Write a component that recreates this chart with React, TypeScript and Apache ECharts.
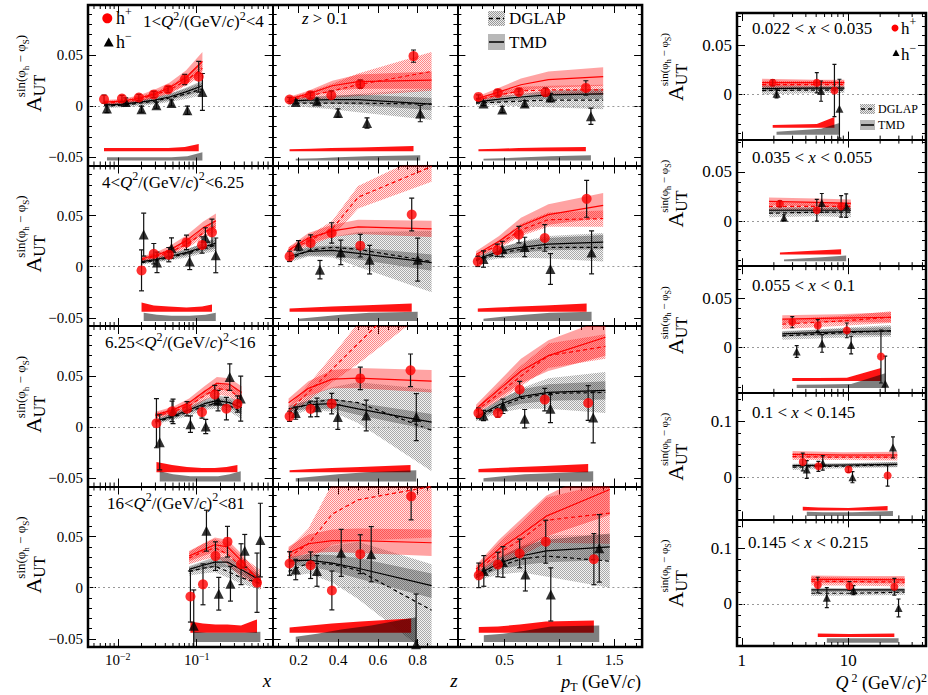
import React, { useEffect, useRef } from "react";
import * as echarts from "echarts";

const FONT = "'Liberation Serif', 'Times New Roman', Times, serif";

// ---------------- axis ranges and tick labels ----------------
const X_RANGE = [0.0042, 0.916];
const Z_RANGE = [0.07, 1.0];
const PT_RANGE = [0.07, 1.755];
const Q2_RANGE = [0.9, 54];
const YL_RANGE = [-0.058, 0.099];
const YRA_RANGE = [-0.046, 0.083];
const YRB_RANGE = [-0.076, 0.152];

const X_TICKS = [0.01, 0.1];
const Z_TICKS = [0.2, 0.4, 0.6, 0.8];
const PT_TICKS = [0.5, 1, 1.5];
const Q2_TICKS = [1, 10];
const YL_TICKS = [-0.05, 0, 0.05];
const YRA_TICKS = [0, 0.05];
const YRB_TICKS = [0, 0.1];
const X_MINOR = [0.005, 0.006, 0.007, 0.008, 0.009, 0.02, 0.03, 0.04, 0.05, 0.06, 0.07, 0.08, 0.09, 0.2, 0.3, 0.4, 0.5, 0.6, 0.7, 0.8, 0.9];
const Q2_MINOR = [2, 3, 4, 5, 6, 7, 8, 9, 20, 30, 40, 50];

// ---------------- labels ----------------
const Q2_BINS = [["1", "4"], ["4", "6.25"], ["6.25", "16"], ["16", "81"]];
const X_BINS = [["0.022", "0.035"], ["0.035", "0.055"], ["0.055", "0.1"], ["0.1", "0.145"], ["0.145", "0.215"]];

// systematic band baselines [h+, h-]
const SYS_BASE_L = [-0.044, -0.053];
const SYS_BASE_RA = [-0.034, -0.041];
const SYS_BASE_RB = [-0.06, -0.07];

// ---------------- data: left block, 1<Q2<4 ----------------
const q1_x = {
  hpX: [0.0067, 0.0113, 0.0185, 0.0286, 0.0434, 0.0705, 0.106],
  hpY: [0.0069, 0.0075, 0.0085, 0.0115, 0.0164, 0.0262, 0.0288],
  hpE: [0.004, 0.003, 0.003, 0.003, 0.003, 0.005, 0.015],
  hmX: [0.0073, 0.0126, 0.02, 0.0309, 0.0479, 0.0762, 0.118],
  hmY: [-0.0023, 0.0042, -0.0029, 0.001, 0.0032, -0.0039, 0.014],
  hmE: [0.004, 0.004, 0.003, 0.003, 0.003, 0.004, 0.018],
  mX: [0.0067, 0.0115, 0.019, 0.029, 0.045, 0.073, 0.118],
  tmdP: [0.004, 0.005, 0.008, 0.012, 0.018, 0.028, 0.044], tmdPw: [0.002, 0.002, 0.003, 0.004, 0.005, 0.007, 0.009],
  dglP: [0.003, 0.004, 0.007, 0.011, 0.016, 0.025, 0.037], dglPw: [0.002, 0.002, 0.003, 0.003, 0.004, 0.005, 0.007],
  tmdM: [0.001, 0.002, 0.004, 0.006, 0.009, 0.014, 0.02], tmdMw: [0.002, 0.002, 0.002, 0.003, 0.003, 0.004, 0.005],
  dglM: [0.0, 0.001, 0.003, 0.005, 0.008, 0.012, 0.017], dglMw: [0.002, 0.002, 0.003, 0.003, 0.004, 0.005, 0.006],
  sysP: [0.003, 0.003, 0.003, 0.003, 0.003, 0.004, 0.007],
  sysM: [0.003, 0.003, 0.003, 0.003, 0.003, 0.004, 0.008],
};
const q1_z = {
  hpX: [0.155, 0.26, 0.365, 0.511, 0.779], hpY: [0.0066, 0.0108, 0.0108, 0.0216, 0.049], hpE: [0.002, 0.003, 0.004, 0.004, 0.006],
  hmX: [0.186, 0.293, 0.399, 0.545, 0.813], hmY: [0.0042, 0.0049, -0.0066, -0.0164, -0.0072], hmE: [0.002, 0.003, 0.004, 0.005, 0.008],
  mX: [0.15, 0.25, 0.37, 0.5, 0.87],
  tmdP: [0.007, 0.012, 0.02, 0.024, 0.0255], tmdPw: [0.002, 0.003, 0.005, 0.007, 0.0085],
  dglP: [0.006, 0.01, 0.015, 0.021, 0.034], dglPw: [0.002, 0.004, 0.007, 0.011, 0.019],
  tmdM: [0.005, 0.006, 0.0065, 0.0065, 0.002], tmdMw: [0.002, 0.003, 0.004, 0.005, 0.006],
  dglM: [0.003, 0.003, 0.003, 0.003, 0.002], dglMw: [0.002, 0.004, 0.006, 0.009, 0.0155],
  sysP: [0.002, 0.0025, 0.003, 0.0035, 0.005], sysM: [0.0015, 0.002, 0.003, 0.004, 0.005],
};
const q1_pt = {
  hpX: [0.262, 0.439, 0.631, 0.873, 1.242], hpY: [0.0091, 0.013, 0.014, 0.0137, 0.0179], hpE: [0.002, 0.003, 0.003, 0.004, 0.007],
  hmX: [0.308, 0.479, 0.684, 0.919, 1.288], hmY: [0.0026, -0.0032, 0.0026, 0.0085, -0.0098], hmE: [0.002, 0.003, 0.003, 0.004, 0.008],
  mX: [0.24, 0.45, 0.65, 0.9, 1.4],
  tmdP: [0.007, 0.014, 0.021, 0.026, 0.029], tmdPw: [0.002, 0.004, 0.006, 0.008, 0.009],
  dglP: [0.006, 0.011, 0.015, 0.016, 0.016], dglPw: [0.002, 0.003, 0.004, 0.004, 0.005],
  tmdM: [0.004, 0.007, 0.009, 0.011, 0.012], tmdMw: [0.002, 0.003, 0.003, 0.004, 0.005],
  dglM: [0.003, 0.004, 0.005, 0.006, 0.006], dglMw: [0.002, 0.003, 0.005, 0.007, 0.009],
  sysP: [0.002, 0.0025, 0.003, 0.0035, 0.004], sysM: [0.0015, 0.002, 0.003, 0.004, 0.005],
};
// ---------------- 4<Q2<6.25 ----------------
const q2_x = {
  hpX: [0.02, 0.0286, 0.0443, 0.0741, 0.1167, 0.156], hpY: [-0.0036, 0.0127, 0.0118, 0.0238, 0.0213, 0.0336], hpE: [0.02, 0.01, 0.007, 0.007, 0.008, 0.013],
  hmX: [0.0213, 0.0314, 0.0479, 0.0815, 0.1288, 0.1742], hmY: [0.0314, 0.0042, 0.0183, 0.0052, 0.0281, 0.0111], hmE: [0.021, 0.01, 0.01, 0.008, 0.01, 0.017],
  mX: [0.02, 0.03, 0.045, 0.075, 0.12, 0.175],
  tmdP: [0.008, 0.011, 0.016, 0.026, 0.038, 0.045], tmdPw: [0.002, 0.003, 0.004, 0.005, 0.006, 0.007],
  dglP: [0.007, 0.01, 0.014, 0.022, 0.033, 0.04], dglPw: [0.002, 0.003, 0.003, 0.004, 0.005, 0.006],
  tmdM: [0.005, 0.007, 0.01, 0.014, 0.019, 0.023], tmdMw: [0.002, 0.002, 0.003, 0.003, 0.004, 0.005],
  dglM: [0.004, 0.006, 0.009, 0.013, 0.018, 0.021], dglMw: [0.002, 0.002, 0.003, 0.004, 0.005, 0.006],
  sysP: [0.009, 0.006, 0.005, 0.004, 0.005, 0.007], sysM: [0.008, 0.006, 0.005, 0.005, 0.006, 0.008],
};
const q2_z = {
  hpX: [0.155, 0.261, 0.367, 0.511, 0.77], hpY: [0.0101, 0.0232, 0.033, 0.0206, 0.051], hpE: [0.005, 0.008, 0.01, 0.011, 0.016],
  hmX: [0.2, 0.308, 0.413, 0.558, 0.8], hmY: [0.0206, -0.0029, 0.014, 0.0069, 0.0069], hmE: [0.005, 0.009, 0.012, 0.014, 0.021],
  mX: [0.15, 0.25, 0.37, 0.5, 0.87],
  tmdP: [0.016, 0.028, 0.035, 0.039, 0.037], tmdPw: [0.003, 0.005, 0.006, 0.007, 0.008],
  dglP: [0.016, 0.025, 0.037, 0.068, 0.098], dglPw: [0.003, 0.005, 0.008, 0.011, 0.015],
  tmdM: [0.01, 0.015, 0.016, 0.013, 0.004], tmdMw: [0.003, 0.004, 0.005, 0.006, 0.008],
  dglM: [0.007, 0.016, 0.019, 0.017, 0.005], dglMw: [0.003, 0.006, 0.01, 0.017, 0.03],
  sysP: [0.003, 0.004, 0.005, 0.006, 0.008], sysM: [0.002, 0.004, 0.006, 0.008, 0.009],
};
const q2_pt = {
  hpX: [0.256, 0.434, 0.631, 0.867, 1.249], hpY: [0.0052, 0.016, 0.0314, 0.0281, 0.0664], hpE: [0.005, 0.006, 0.008, 0.013, 0.018],
  hmX: [0.308, 0.479, 0.684, 0.919, 1.294], hmY: [0.0075, 0.0173, 0.0193, -0.0023, 0.014], hmE: [0.008, 0.0075, 0.0095, 0.015, 0.021],
  mX: [0.24, 0.45, 0.65, 0.9, 1.4],
  tmdP: [0.012, 0.025, 0.04, 0.051, 0.06], tmdPw: [0.003, 0.005, 0.008, 0.01, 0.012],
  dglP: [0.01, 0.022, 0.036, 0.046, 0.047], dglPw: [0.002, 0.004, 0.006, 0.007, 0.008],
  tmdM: [0.007, 0.015, 0.019, 0.022, 0.024], tmdMw: [0.002, 0.004, 0.005, 0.006, 0.007],
  dglM: [0.006, 0.013, 0.017, 0.019, 0.019], dglMw: [0.002, 0.005, 0.008, 0.011, 0.014],
  sysP: [0.003, 0.004, 0.005, 0.006, 0.008], sysM: [0.002, 0.004, 0.006, 0.008, 0.009],
};
// ---------------- 6.25<Q2<16 ----------------
const q3_x = {
  hpX: [0.0309, 0.0487, 0.0753, 0.1166, 0.169, 0.2376, 0.3275], hpY: [0.0039, 0.0155, 0.0181, 0.0148, 0.032, 0.0181, 0.0227], hpE: [0.024, 0.01, 0.007, 0.006, 0.009, 0.011, 0.008],
  hmX: [0.034, 0.0501, 0.0832, 0.13, 0.186, 0.262, 0.3606], hmY: [-0.0148, 0.0155, 0.003, 0.0007, 0.026, 0.049, 0.028], hmE: [0.027, 0.012, 0.008, 0.007, 0.01, 0.013, 0.022],
  mX: [0.03, 0.05, 0.08, 0.125, 0.18, 0.26, 0.37],
  tmdP: [0.012, 0.017, 0.024, 0.035, 0.043, 0.042, 0.034], tmdPw: [0.003, 0.003, 0.004, 0.005, 0.006, 0.006, 0.006],
  dglP: [0.011, 0.015, 0.021, 0.031, 0.038, 0.036, 0.028], dglPw: [0.003, 0.003, 0.004, 0.005, 0.006, 0.006, 0.007],
  tmdM: [0.006, 0.011, 0.017, 0.023, 0.026, 0.024, 0.019], tmdMw: [0.002, 0.003, 0.003, 0.004, 0.005, 0.005, 0.006],
  dglM: [0.005, 0.01, 0.015, 0.021, 0.023, 0.021, 0.015], dglMw: [0.002, 0.003, 0.004, 0.004, 0.005, 0.006, 0.007],
  sysP: [0.01, 0.007, 0.005, 0.004, 0.004, 0.005, 0.007], sysM: [0.01, 0.007, 0.005, 0.005, 0.005, 0.007, 0.01],
};
const q3_z = {
  hpX: [0.155, 0.261, 0.367, 0.511, 0.764], hpY: [0.0106, 0.0178, 0.023, 0.0477, 0.0556], hpE: [0.005, 0.0077, 0.01, 0.011, 0.016],
  hmX: [0.186, 0.293, 0.398, 0.541, 0.793], hmY: [0.0138, 0.0194, 0.0099, 0.0115, 0.0099], hmE: [0.006, 0.009, 0.012, 0.015, 0.023],
  mX: [0.15, 0.25, 0.37, 0.5, 0.87],
  tmdP: [0.024, 0.038, 0.047, 0.048, 0.045], tmdPw: [0.004, 0.007, 0.009, 0.01, 0.011],
  dglP: [0.016, 0.034, 0.057, 0.082, 0.152], dglPw: [0.004, 0.008, 0.013, 0.02, 0.035],
  tmdM: [0.018, 0.022, 0.023, 0.018, 0.005], tmdMw: [0.003, 0.004, 0.005, 0.006, 0.008],
  dglM: [0.013, 0.024, 0.027, 0.024, -0.003], dglMw: [0.003, 0.007, 0.012, 0.02, 0.04],
  sysP: [0.002, 0.003, 0.004, 0.005, 0.007], sysM: [0.003, 0.005, 0.007, 0.009, 0.011],
};
const q3_pt = {
  hpX: [0.262, 0.439, 0.638, 0.867, 1.263], hpY: [0.0138, 0.0138, 0.0369, 0.027, 0.0237], hpE: [0.005, 0.004, 0.008, 0.011, 0.017],
  hmX: [0.308, 0.485, 0.684, 0.919, 1.309], hmY: [0.0115, 0.0204, 0.0083, 0.0181, 0.0096], hmE: [0.005, 0.007, 0.009, 0.0137, 0.025],
  mX: [0.24, 0.45, 0.65, 0.9, 1.42],
  tmdP: [0.018, 0.037, 0.055, 0.07, 0.088], tmdPw: [0.004, 0.008, 0.012, 0.015, 0.018],
  dglP: [0.016, 0.033, 0.05, 0.07, 0.079], dglPw: [0.003, 0.007, 0.01, 0.012, 0.012],
  tmdM: [0.01, 0.022, 0.03, 0.034, 0.036], tmdMw: [0.003, 0.005, 0.007, 0.008, 0.009],
  dglM: [0.009, 0.02, 0.028, 0.033, 0.034], dglMw: [0.003, 0.006, 0.01, 0.015, 0.02],
  sysP: [0.003, 0.004, 0.005, 0.006, 0.008], sysM: [0.003, 0.005, 0.007, 0.008, 0.01],
};
// ---------------- 16<Q2<81 ----------------
const q4_x = {
  hpX: [0.0832, 0.12, 0.1726, 0.245, 0.364, 0.58], hpY: [-0.0086, 0.0033, 0.0309, 0.045, 0.023, 0.0049], hpE: [0.025, 0.02, 0.014, 0.015, 0.02, 0.029],
  hmX: [0.0916, 0.1327, 0.19, 0.2672, 0.4055, 0.6397], hmY: [-0.0372, 0.0558, -0.0059, 0.0039, 0.0361, 0.0466], hmE: [0.035, 0.02, 0.016, 0.017, 0.016, 0.036],
  mX: [0.08, 0.12, 0.17, 0.245, 0.36, 0.65],
  tmdP: [0.031, 0.037, 0.042, 0.04, 0.027, 0.005], tmdPw: [0.005, 0.006, 0.007, 0.007, 0.007, 0.006],
  dglP: [0.029, 0.035, 0.039, 0.033, 0.021, 0.008], dglPw: [0.006, 0.008, 0.009, 0.01, 0.01, 0.009],
  tmdM: [0.018, 0.022, 0.025, 0.025, 0.018, 0.007], tmdMw: [0.003, 0.004, 0.005, 0.005, 0.005, 0.005],
  dglM: [0.016, 0.019, 0.021, 0.016, 0.01, 0.004], dglMw: [0.004, 0.005, 0.006, 0.006, 0.006, 0.006],
  sysP: [0.011, 0.009, 0.008, 0.008, 0.007, 0.013], sysM: [0.01, 0.009, 0.009, 0.009, 0.009, 0.01],
};
const q4_z = {
  hpX: [0.155, 0.261, 0.368, 0.511, 0.767], hpY: [0.0237, 0.022, -0.0027, 0.0328, 0.0894], hpE: [0.0115, 0.013, 0.019, 0.019, 0.023],
  hmX: [0.186, 0.293, 0.415, 0.566, 0.792], hmY: [0.0178, 0.0164, 0.0341, 0.0328, -0.0552], hmE: [0.01, 0.015, 0.023, 0.027, 0.049],
  mX: [0.15, 0.25, 0.37, 0.5, 0.87],
  tmdP: [0.034, 0.043, 0.046, 0.046, 0.044], tmdPw: [0.006, 0.009, 0.011, 0.012, 0.013],
  dglP: [0.03, 0.043, 0.072, 0.086, 0.099], dglPw: [0.008, 0.015, 0.03, 0.04, 0.05],
  tmdM: [0.026, 0.027, 0.024, 0.019, 0.002], tmdMw: [0.004, 0.006, 0.008, 0.01, 0.012],
  dglM: [0.016, 0.024, 0.023, 0.017, -0.022], dglMw: [0.005, 0.01, 0.018, 0.028, 0.045],
  sysP: [0.005, 0.007, 0.009, 0.011, 0.014], sysM: [0.005, 0.008, 0.012, 0.016, 0.024],
};
const q4_pt = {
  hpX: [0.265, 0.439, 0.638, 0.876, 1.315], hpY: [0.0121, 0.0227, 0.0335, 0.045, 0.0279], hpE: [0.012, 0.012, 0.014, 0.021, 0.025],
  hmX: [0.311, 0.485, 0.69, 0.922, 1.364], hmY: [0.0164, 0.0252, 0.0128, -0.0066, 0.0385], hmE: [0.015, 0.015, 0.016, 0.026, 0.033],
  mX: [0.24, 0.45, 0.65, 0.88, 1.46],
  tmdP: [0.018, 0.038, 0.052, 0.07, 0.096], tmdPw: [0.004, 0.009, 0.015, 0.02, 0.025],
  dglP: [0.016, 0.034, 0.047, 0.066, 0.073], dglPw: [0.004, 0.01, 0.016, 0.022, 0.03],
  tmdM: [0.012, 0.024, 0.031, 0.036, 0.04], tmdMw: [0.003, 0.006, 0.009, 0.011, 0.013],
  dglM: [0.01, 0.021, 0.028, 0.031, 0.026], dglMw: [0.003, 0.008, 0.013, 0.02, 0.026],
  sysP: [0.0056, 0.006, 0.008, 0.011, 0.012], sysM: [0.0066, 0.008, 0.011, 0.015, 0.016],
};
// ---------------- right block: Q2 dependence in x bins ----------------
const rx1 = {
  hpX: [1.95, 5.07, 7.43], hpY: [0.012, 0.012, 0.0041], hpE: [0.003, 0.0103, 0.0266],
  hmX: [2.12, 5.56, 8.28], hmY: [0.0006, 0.0034, -0.0145], hmE: [0.004, 0.0103, 0.03],
  mX: [1.55, 5, 9.2],
  tmdP: [0.012, 0.012, 0.012], tmdPw: [0.004, 0.003, 0.003],
  dglP: [0.01, 0.01, 0.01], dglPw: [0.004, 0.004, 0.004],
  tmdM: [0.006, 0.0065, 0.0065], tmdMw: [0.003, 0.002, 0.002],
  dglM: [0.004, 0.0045, 0.0045], dglMw: [0.004, 0.003, 0.003],
  sysP: [0.003, 0.004, 0.011], sysM: [0.003, 0.006, 0.012],
};
const rx2 = {
  hpX: [2.28, 5.07, 8.59], hpY: [0.0177, 0.011, 0.015], hpE: [0.003, 0.011, 0.011],
  hmX: [2.49, 5.65, 9.58], hmY: [0.0034, 0.0184, 0.0157], hmE: [0.003, 0.0097, 0.012],
  mX: [1.8, 5, 10.6],
  tmdP: [0.02, 0.019, 0.018], tmdPw: [0.004, 0.004, 0.004],
  dglP: [0.015, 0.015, 0.015], dglPw: [0.004, 0.004, 0.004],
  tmdM: [0.011, 0.011, 0.011], tmdMw: [0.003, 0.003, 0.003],
  dglM: [0.008, 0.009, 0.009], dglMw: [0.004, 0.004, 0.005],
  sysP: [0.002, 0.004, 0.0053], sysM: [0.0017, 0.004, 0.006],
};
const rx3 = {
  hpX: [2.98, 5.18, 9.72, 20.35], hpY: [0.026, 0.0226, 0.0176, -0.009], hpE: [0.0057, 0.006, 0.0075, 0.027],
  hmX: [3.28, 5.68, 10.67, 22.34], hmY: [-0.004, 0.0043, 0.0026, -0.0367], hmE: [0.006, 0.009, 0.009, 0.028],
  mX: [2.4, 8, 25.3],
  tmdP: [0.029, 0.03, 0.031], tmdPw: [0.004, 0.004, 0.005],
  dglP: [0.024, 0.027, 0.031], dglPw: [0.005, 0.005, 0.006],
  tmdM: [0.014, 0.016, 0.017], tmdMw: [0.003, 0.003, 0.004],
  dglM: [0.012, 0.015, 0.017], dglMw: [0.004, 0.005, 0.006],
  sysP: [0.003, 0.003, 0.0033, 0.0133], sysM: [0.0033, 0.0035, 0.004, 0.015],
};
const rx4 = {
  hpX: [3.74, 5.25, 10.07, 23.5], hpY: [0.0275, 0.0196, 0.0138, 0.003], hpE: [0.016, 0.009, 0.005, 0.019],
  hmX: [4.08, 5.77, 10.98, 26.4], hmY: [0.0138, 0.0257, 0.0, 0.0536], hmE: [0.016, 0.013, 0.01, 0.019],
  mX: [3, 9, 29],
  tmdP: [0.041, 0.04, 0.04], tmdPw: [0.006, 0.005, 0.006],
  dglP: [0.037, 0.036, 0.036], dglPw: [0.006, 0.005, 0.006],
  tmdM: [0.021, 0.022, 0.023], tmdMw: [0.003, 0.003, 0.004],
  dglM: [0.018, 0.02, 0.023], dglMw: [0.005, 0.004, 0.005],
  sysP: [0.007, 0.0055, 0.0047, 0.0083], sysM: [0.0078, 0.007, 0.007, 0.009],
};
const rx5 = {
  hpX: [5.18, 10.29, 27.2], hpY: [0.0338, 0.032, 0.0307], hpE: [0.014, 0.008, 0.015],
  hmX: [6.3, 11.22, 29.8], hmY: [0.011, 0.0246, -0.0074], hmE: [0.018, 0.008, 0.016],
  mX: [4.5, 11, 34],
  tmdP: [0.044, 0.044, 0.043], tmdPw: [0.007, 0.006, 0.007],
  dglP: [0.041, 0.04, 0.039], dglPw: [0.008, 0.007, 0.008],
  tmdM: [0.025, 0.025, 0.025], tmdMw: [0.004, 0.003, 0.004],
  dglM: [0.019, 0.019, 0.021], dglMw: [0.005, 0.004, 0.005],
  sysP: [0.0065, 0.0055, 0.0065], sysM: [0.008, 0.008, 0.008],
};

const LEFT_PANELS = [
  [q1_x, q1_z, q1_pt],
  [q2_x, q2_z, q2_pt],
  [q3_x, q3_z, q3_pt],
  [q4_x, q4_z, q4_pt],
];
const RIGHT_PANELS = [rx1, rx2, rx3, rx4, rx5];

// ---------------- styling / layout ----------------
const RED = "#ff0000";
const C_TMD_P = "rgba(255,0,0,0.36)";
const C_TMD_M = "rgba(0,0,0,0.27)";
const C_SYS_P = "rgba(255,0,0,0.92)";
const C_SYS_M = "rgba(0,0,0,0.5)";

const L_LAYOUT = { x0: 88, y0: 5, w: 184.7, h: 160.5 };
const R_LAYOUT = { x0: 737, y0: 13, w: 189, h: 126.6 };

function dotPattern(bg: string, dot: string, fallback: string): any {
  try {
    const c = document.createElement("canvas");
    c.width = 2; c.height = 2;
    const ctx = c.getContext("2d");
    if (!ctx) return fallback;
    ctx.fillStyle = bg; ctx.fillRect(0, 0, 2, 2);
    ctx.fillStyle = dot; ctx.fillRect(0, 0, 1, 1); ctx.fillRect(1, 1, 1, 1);
    return { image: c, repeat: "repeat" };
  } catch (e) {
    return fallback;
  }
}

const isTick = (v: number, arr: number[]) => arr.some((t) => Math.abs(t - v) <= 1e-6 * Math.max(1e-3, Math.abs(t)) + 1e-9);
const fmtNum = (v: number) => (v === 0 ? "0" : (v < 0 ? "−" : "") + String(+Math.abs(v).toFixed(4)));

const X_KINDS: any = {
  x: { type: "log", range: X_RANGE, ticks: X_TICKS, minorLog: X_MINOR, fmt: (v: number) => `{n|10}{s|−${-Math.round(Math.log10(v))}}` },
  z: { type: "value", range: Z_RANGE, ticks: Z_TICKS, split: 5, minor: 4, fmt: (v: number) => `{n|${fmtNum(v)}}` },
  pt: { type: "value", range: PT_RANGE, ticks: PT_TICKS, split: 3, minor: 5, fmt: (v: number) => `{n|${fmtNum(v)}}` },
  q2: { type: "log", range: Q2_RANGE, ticks: Q2_TICKS, minorLog: Q2_MINOR, fmt: (v: number) => `{n|${Math.round(v)}}` },
};
const Y_KINDS: any = {
  L: { range: YL_RANGE, ticks: YL_TICKS, sys: SYS_BASE_L },
  RA: { range: YRA_RANGE, ticks: YRA_TICKS, sys: SYS_BASE_RA },
  RB: { range: YRB_RANGE, ticks: YRB_TICKS, sys: SYS_BASE_RB },
};

function richStyles(F: number, lh = 1.4, slh = 1.0, dlh = 0.85) {
  return {
    n: { fontFamily: FONT, fontSize: F, lineHeight: Math.round(F * lh), fill: "#000" },
    i: { fontFamily: FONT, fontSize: F, lineHeight: Math.round(F * lh), fontStyle: "italic", fill: "#000" },
    s: { fontFamily: FONT, fontSize: Math.round(F * 0.68), lineHeight: Math.round(F * slh), verticalAlign: "top", fill: "#000" },
    d: { fontFamily: FONT, fontSize: Math.round(F * 0.68), lineHeight: Math.round(F * dlh), verticalAlign: "bottom", fill: "#000" },
  };
}

function bandSeries(xs: number[], lo: number[], hi: number[], fill: any, xi: number, yi: number, z: number) {
  const data = xs.map((x, i) => [x, lo[i], hi[i]]);
  return {
    type: "custom", xAxisIndex: xi, yAxisIndex: yi, z, clip: true, silent: true,
    encode: { x: 0, y: 1 }, data,
    renderItem: (params: any, api: any) => {
      if (params.dataIndex !== 0) return null;
      const up = data.map((d) => api.coord([d[0], d[2]]));
      const dn = data.map((d) => api.coord([d[0], d[1]])).reverse();
      return { type: "polygon", shape: { points: up.concat(dn) }, style: { fill, stroke: "none" } };
    },
  };
}

function errSeries(xs: number[], ys: number[], es: number[], xi: number, yi: number, cap: number) {
  return {
    type: "custom", xAxisIndex: xi, yAxisIndex: yi, z: 6, clip: true, silent: true,
    encode: { x: 0, y: 1 },
    data: xs.map((x, i) => [x, ys[i], es[i]]),
    renderItem: (params: any, api: any) => {
      const x = api.value(0), y = api.value(1), e = api.value(2);
      const a = api.coord([x, y + e]);
      const b = api.coord([x, y - e]);
      const st = { stroke: "#111", lineWidth: 1.2 };
      return {
        type: "group",
        children: [
          { type: "line", shape: { x1: a[0], y1: a[1], x2: b[0], y2: b[1] }, style: st },
          { type: "line", shape: { x1: a[0] - cap, y1: a[1], x2: a[0] + cap, y2: a[1] }, style: st },
          { type: "line", shape: { x1: b[0] - cap, y1: b[1], x2: b[0] + cap, y2: b[1] }, style: st },
        ],
      };
    },
  };
}

function lineSeries(xs: number[], ys: number[], color: string, dashed: boolean, xi: number, yi: number, extra: any = {}) {
  return {
    type: "line", xAxisIndex: xi, yAxisIndex: yi, z: 3, silent: true, symbol: "none", showSymbol: false,
    data: xs.map((x, i) => [x, ys[i]]),
    lineStyle: { color, width: 1.2, type: dashed ? [4, 3] : "solid" },
    ...extra,
  };
}

function logMinorSeries(vals: number[], xi: number, yi: number) {
  return {
    type: "custom", xAxisIndex: xi, yAxisIndex: yi, z: 8, silent: true, clip: false,
    encode: { x: 0, y: 1 },
    data: vals.map((v) => [v, 0]),
    renderItem: (params: any, api: any) => {
      const cs = params.coordSys;
      const px = api.coord([api.value(0), 0])[0];
      if (px < cs.x + 1 || px > cs.x + cs.width - 1) return null;
      const b = cs.y + cs.height, t = cs.y;
      const st = { stroke: "#000", lineWidth: 1 };
      return {
        type: "group",
        children: [
          { type: "line", shape: { x1: px, y1: b, x2: px, y2: b - 4 }, style: st },
          { type: "line", shape: { x1: px, y1: t, x2: px, y2: t + 4 }, style: st },
        ],
      };
    },
  };
}

// tick labels placed through the axis scale (api.coord)
function tickLabelSeries(vals: number[], isX: boolean, anchor: number, fmt: (v: number) => string, F: number, xi: number, yi: number) {
  const rich = { ...richStyles(F, 1.2, 0.5) };
  return {
    type: "custom", xAxisIndex: xi, yAxisIndex: yi, z: 9, silent: true, clip: false,
    encode: { x: 0, y: 1 },
    data: vals.map((v) => (isX ? [v, anchor] : [anchor, v])),
    renderItem: (params: any, api: any) => {
      const cs = params.coordSys;
      const pt = api.coord([api.value(0), api.value(1)]);
      const v = isX ? api.value(0) : api.value(1);
      return {
        type: "text",
        x: isX ? pt[0] : cs.x - 5,
        y: isX ? cs.y + cs.height + 4 : pt[1],
        style: {
          text: fmt(v), rich, fontFamily: FONT, fontSize: F, fill: "#000",
          align: isX ? "center" : "right", verticalAlign: isX ? "top" : "middle",
          textAlign: isX ? "center" : "right", textVerticalAlign: isX ? "top" : "middle",
        },
      };
    },
  };
}

function gText(x: number, y: number, text: string, F: number, align = "left", lh = 1.4, slh = 1.0, dlh = 0.85) {
  return {
    type: "text", x, y, z: 50, silent: true,
    style: { text, rich: richStyles(F, lh, slh, dlh), fontFamily: FONT, fontSize: F, fill: "#000", align, verticalAlign: "middle", textAlign: align, textVerticalAlign: "middle" },
  };
}

function yTitle(gx: number, gy: number, FA: number, FS: number) {
  const wA = FA * 0.72;
  return {
    type: "group", x: gx, y: gy, rotation: Math.PI / 2, z: 50, silent: true,
    children: [
      { type: "text", x: 0, y: 0, style: { text: "A", fontFamily: FONT, fontSize: FA, fill: "#000", align: "left", verticalAlign: "bottom" } },
      { type: "text", x: wA, y: FA * 0.18, style: { text: "UT", fontFamily: FONT, fontSize: Math.round(FA * 0.72), fill: "#000", align: "left", verticalAlign: "bottom" } },
      {
        type: "text", x: wA - 1, y: -FA * 0.6,
        style: {
          text: "{a|sin(φ}{b|h}{a| − φ}{b|S}{a|)}",
          rich: {
            a: { fontFamily: FONT, fontSize: FS, lineHeight: Math.round(FS * 1.5), fill: "#000" },
            b: { fontFamily: FONT, fontSize: Math.round(FS * 0.72), lineHeight: Math.round(FS * 0.95), verticalAlign: "bottom", fill: "#000" },
          },
          align: "left", verticalAlign: "bottom",
        },
      },
    ],
  };
}

function legendBox(x: number, y: number, w: number, h: number, fill: any, dashed: boolean) {
  return [
    { type: "rect", z: 50, silent: true, shape: { x, y, width: w, height: h }, style: { fill, stroke: "none" } },
    { type: "line", z: 51, silent: true, shape: { x1: x + 1, y1: y + h / 2, x2: x + w - 1, y2: y + h / 2 }, style: { stroke: "#000", lineWidth: 1.5, lineDash: dashed ? [4, 3] : null } },
  ];
}

function buildOption() {
  const C_DGL_P = dotPattern("rgba(255,0,0,0.1)", "rgba(255,0,0,0.42)", "rgba(255,0,0,0.2)");
  const C_DGL_M = dotPattern("rgba(0,0,0,0.05)", "rgba(0,0,0,0.3)", "rgba(0,0,0,0.14)");
  const C_DGL_LEG = dotPattern("rgba(0,0,0,0.08)", "rgba(0,0,0,0.35)", "rgba(0,0,0,0.16)");

  const grid: any[] = [], xAxis: any[] = [], yAxis: any[] = [], series: any[] = [];
  const panels: any[] = [];
  LEFT_PANELS.forEach((row, r) =>
    row.forEach((d, c) =>
      panels.push({
        d, left: L_LAYOUT.x0 + c * L_LAYOUT.w, top: L_LAYOUT.y0 + r * L_LAYOUT.h, width: L_LAYOUT.w, height: L_LAYOUT.h,
        xk: ["x", "z", "pt"][c], yk: "L", xLab: r === 3, yLab: c === 0, sym: 10, triSym: 10, F: 15, cap: 2.5,
      })
    )
  );
  RIGHT_PANELS.forEach((d, r) =>
    panels.push({
      d, left: R_LAYOUT.x0, top: R_LAYOUT.y0 + r * R_LAYOUT.h, width: R_LAYOUT.w, height: R_LAYOUT.h,
      xk: "q2", yk: r < 3 ? "RA" : "RB", xLab: r === 4, yLab: true, sym: 8, triSym: 8, F: 17, cap: 2,
    })
  );

  panels.forEach((p, gi) => {
    grid.push({ left: p.left, top: p.top, width: p.width, height: p.height, containLabel: false });
    const xk = X_KINDS[p.xk];
    const yk = Y_KINDS[p.yk];
    const common = {
      gridIndex: gi,
      axisLine: { show: true, onZero: false, lineStyle: { color: "#000", width: 2 } },
      axisTick: { show: true, inside: true, length: 8, lineStyle: { color: "#000", width: 1 } },
      axisLabel: { show: false },
      splitLine: { show: false },
      minorSplitLine: { show: false },
    };
    const xBase: any = {
      ...common, type: xk.type, min: xk.range[0], max: xk.range[1],
      ...(xk.type === "log" ? { logBase: 10 } : { splitNumber: xk.split }),
      minorTick: xk.minor ? { show: true, splitNumber: xk.minor, length: 4, lineStyle: { color: "#000", width: 1 } } : { show: false },
    };
    xAxis.push({ ...xBase, position: "bottom" });
    xAxis.push({ ...xBase, position: "top" });
    const yBase: any = {
      ...common, type: "value", min: yk.range[0], max: yk.range[1], splitNumber: 3,
      minorTick: { show: true, splitNumber: 5, length: 4, lineStyle: { color: "#000", width: 1 } },
    };
    yAxis.push({ ...yBase, position: "left" });
    yAxis.push({ ...yBase, position: "right" });

    const xi = gi * 2, yi = gi * 2;
    const d = p.d;
    const lo = (c: number[], w: number[]) => c.map((v, i) => v - w[i]);
    const hi = (c: number[], w: number[]) => c.map((v, i) => v + w[i]);

    series.push(bandSeries(d.mX, lo(d.dglM, d.dglMw), hi(d.dglM, d.dglMw), C_DGL_M, xi, yi, 1));
    series.push(bandSeries(d.mX, lo(d.dglP, d.dglPw), hi(d.dglP, d.dglPw), C_DGL_P, xi, yi, 1));
    series.push(bandSeries(d.mX, lo(d.tmdM, d.tmdMw), hi(d.tmdM, d.tmdMw), C_TMD_M, xi, yi, 2));
    series.push(bandSeries(d.mX, lo(d.tmdP, d.tmdPw), hi(d.tmdP, d.tmdPw), C_TMD_P, xi, yi, 2));

    series.push(lineSeries(d.mX, d.dglM, "#000", true, xi, yi));
    series.push(lineSeries(d.mX, d.tmdM, "#000", false, xi, yi, {
      markLine: {
        silent: true, symbol: ["none", "none"], label: { show: false }, animation: false,
        lineStyle: { color: "#999", type: [2, 3], width: 1 }, data: [{ yAxis: 0 }],
      },
    }));
    series.push(lineSeries(d.mX, d.dglP, RED, true, xi, yi));
    series.push(lineSeries(d.mX, d.tmdP, RED, false, xi, yi));

    const sb = yk.sys;
    series.push(bandSeries(d.hpX, d.hpX.map(() => sb[0]), d.sysP.map((h: number) => sb[0] + h), C_SYS_P, xi, yi, 4));
    series.push(bandSeries(d.hmX, d.hmX.map(() => sb[1]), d.sysM.map((h: number) => sb[1] + h), C_SYS_M, xi, yi, 5));

    series.push(errSeries(d.hmX, d.hmY, d.hmE, xi, yi, p.cap));
    series.push(errSeries(d.hpX, d.hpY, d.hpE, xi, yi, p.cap));
    series.push({
      type: "scatter", xAxisIndex: xi, yAxisIndex: yi, z: 7, silent: true, symbol: "triangle", symbolSize: p.triSym,
      itemStyle: { color: "#000" }, data: d.hmX.map((x: number, i: number) => [x, d.hmY[i]]),
    });
    series.push({
      type: "scatter", xAxisIndex: xi, yAxisIndex: yi, z: 7, silent: true, symbol: "circle", symbolSize: p.sym,
      itemStyle: { color: RED }, data: d.hpX.map((x: number, i: number) => [x, d.hpY[i]]),
    });
    if (xk.minorLog) series.push(logMinorSeries(xk.minorLog, xi, yi));
    if (p.xLab) series.push(tickLabelSeries(xk.ticks, true, yk.range[0], xk.fmt, p.F, xi, yi));
    if (p.yLab) series.push(tickLabelSeries(yk.ticks, false, xk.range[0], (v: number) => `{n|${fmtNum(v)}}`, p.F, xi, yi));
  });

  // ---------- graphics: frames, titles, legends ----------
  const g: any[] = [];
  g.push({ type: "rect", z: 60, silent: true, shape: { x: L_LAYOUT.x0, y: L_LAYOUT.y0, width: L_LAYOUT.w * 3, height: L_LAYOUT.h * 4 }, style: { fill: "none", stroke: "#000", lineWidth: 2.5 } });
  g.push({ type: "rect", z: 60, silent: true, shape: { x: R_LAYOUT.x0, y: R_LAYOUT.y0, width: R_LAYOUT.w, height: R_LAYOUT.h * 5 }, style: { fill: "none", stroke: "#000", lineWidth: 2.5 } });

  for (let r = 0; r < 4; r++) g.push(yTitle(44, L_LAYOUT.y0 + r * L_LAYOUT.h + 107, 22, 13));
  for (let r = 0; r < 5; r++) g.push(yTitle(686, R_LAYOUT.y0 + r * R_LAYOUT.h + 88, 22, 11));

  const qx = [143, 102, 105, 107];
  Q2_BINS.forEach((b, r) =>
    g.push(gText(qx[r], L_LAYOUT.y0 + r * L_LAYOUT.h + 16.5, `{n|${b[0]}<}{i|Q}{s|2}{n|/(GeV/}{i|c}{n|)}{s|2}{n|<${b[1]}}`, 17))
  );
  const ry = [28, 157, 285, 412, 542];
  const rxp = [752, 752, 752, 752, 748];
  X_BINS.forEach((b, r) => g.push(gText(rxp[r], ry[r], `{n|${b[0]} < }{i|x}{n| < ${b[1]}}`, 17)));

  // h+/h- legend (left)
  g.push({ type: "circle", z: 50, silent: true, shape: { cx: 107.3, cy: 18.3, r: 5 }, style: { fill: RED } });
  g.push(gText(116, 18, "{n|h}{s|+}", 18));
  g.push({ type: "polygon", z: 50, silent: true, shape: { points: [[108.7, 37.5], [113.7, 46.5], [103.7, 46.5]] }, style: { fill: "#000" } });
  g.push(gText(116, 42, "{n|h}{s|−}", 18));
  g.push(gText(302, 18, "{i|z}{n| > 0.1}", 17));
  // DGLAP / TMD legend (left)
  g.push(...legendBox(488, 11, 17, 15, C_DGL_LEG, true));
  g.push(gText(509, 18.5, "{n|DGLAP}", 17));
  g.push(...legendBox(488, 34, 17, 16, "rgba(0,0,0,0.28)", false));
  g.push(gText(509, 42, "{n|TMD}", 17));
  // right legends
  g.push({ type: "circle", z: 50, silent: true, shape: { cx: 895, cy: 28, r: 3.5 }, style: { fill: RED } });
  g.push(gText(901, 28, "{n|h}{s|+}", 17));
  g.push({ type: "polygon", z: 50, silent: true, shape: { points: [[896, 49.5], [899.5, 56], [892.5, 56]] }, style: { fill: "#000" } });
  g.push(gText(901, 54, "{n|h}{s|−}", 17));
  g.push(...legendBox(860, 104, 15, 10, C_DGL_LEG, true));
  g.push(gText(878, 108.5, "{n|DGLAP}", 12));
  g.push(...legendBox(860, 120, 15, 10, "rgba(0,0,0,0.28)", false));
  g.push(gText(878, 125, "{n|TMD}", 12));

  // axis titles
  g.push(gText(267, 680, "{i|x}", 19, "center", 1.2));
  g.push(gText(454, 680, "{i|z}", 19, "center", 1.2));
  g.push(gText(641, 682, "{i|p}{d|T}{n| (GeV/}{i|c}{n|)}", 18, "right", 1.2, 0.6, 0.5));
  g.push(gText(927, 683, "{i|Q}{s| 2}{n| (GeV/}{i|c}{n|)}{s|2}", 18, "right", 1.2, 0.6, 0.5));

  return {
    animation: false,
    backgroundColor: "#fff",
    textStyle: { fontFamily: FONT },
    grid, xAxis, yAxis, series,
    graphic: { elements: g },
  };
}

export default function App() {
  const ref = useRef<HTMLDivElement>(null);
  useEffect(() => {
    const chart = echarts.init(ref.current!, null, { renderer: "svg", width: 928, height: 695 });
    chart.setOption(buildOption() as any);
    return () => chart.dispose();
  }, []);
  return <div ref={ref} style={{ position: "absolute", left: 0, top: 0, width: 928, height: 695, background: "#fff" }} />;
}
